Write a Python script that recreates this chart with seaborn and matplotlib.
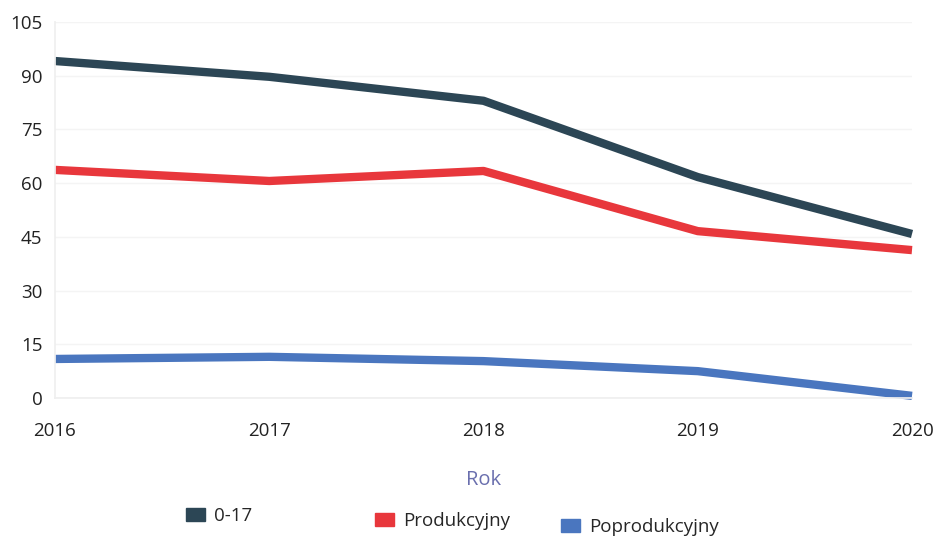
import matplotlib
matplotlib.use("Agg")
import matplotlib.pyplot as plt
import seaborn as sns
import pandas as pd
from matplotlib.patches import Patch

years = [2016, 2017, 2018, 2019, 2020]
series_names = ["0-17", "Produkcyjny", "Poprodukcyjny"]
v_0_17 = [94.1, 89.7, 83.0, 61.7, 45.8]
v_prod = [63.7, 60.6, 63.4, 46.6, 41.3]
v_poprod = [10.9, 11.5, 10.3, 7.5, 0.6]
yticks = [0, 15, 30, 45, 60, 75, 90, 105]
colors = ["#2c4655", "#e8373c", "#4a76bf"]

df = pd.DataFrame({
    "Rok": years * 3,
    "value": v_0_17 + v_prod + v_poprod,
    "series": [series_names[0]] * 5 + [series_names[1]] * 5 + [series_names[2]] * 5,
})

sns.set_theme(style="white")
plt.rcParams["font.family"] = ["Open Sans", "DejaVu Sans"]

W, H = 935, 547
fig = plt.figure(figsize=(W / 100, H / 100), dpi=100)
ax = fig.add_axes([55 / W, 1 - 398 / H, (912 - 55) / W, (398 - 22) / H])

sns.lineplot(data=df, x="Rok", y="value", hue="series", palette=colors,
             hue_order=series_names, linewidth=6, ax=ax, legend=False)
for ln in ax.lines:
    ln.set_clip_on(False)
    ln.set_solid_capstyle("butt")

ax.set_xlim(2016, 2020)
ax.set_ylim(0, 105)
ax.set_yticks(yticks)
ax.set_xticks(years)
ax.set_xticklabels([str(y) for y in years])
ax.tick_params(axis="both", labelsize=13.5, colors="#222222", length=0)
ax.tick_params(axis="x", pad=17)
ax.tick_params(axis="y", pad=9)
ax.grid(axis="y", color="#f4f4f4", linewidth=1)
ax.set_axisbelow(True)
for s in ["top", "right"]:
    ax.spines[s].set_visible(False)
ax.spines["left"].set_color("#efefef")
ax.spines["bottom"].set_color("#efefef")
ax.set_ylabel("")
ax.set_xlabel("Rok", fontsize=14.5, color="#6a6fae", labelpad=22)

legend_pos = [(186, 516), (375, 521), (561, 527)]
for name, col, (px, py) in zip(series_names, colors, legend_pos):
    leg = fig.legend(handles=[Patch(facecolor=col, edgecolor=col)], labels=[name],
                     loc="center left", bbox_to_anchor=(px / W, 1 - py / H),
                     frameon=False, fontsize=13.5, handlelength=1.0, handleheight=0.7,
                     handletextpad=0.5, borderpad=0, borderaxespad=0)

fig.savefig("out.png", dpi=100)
